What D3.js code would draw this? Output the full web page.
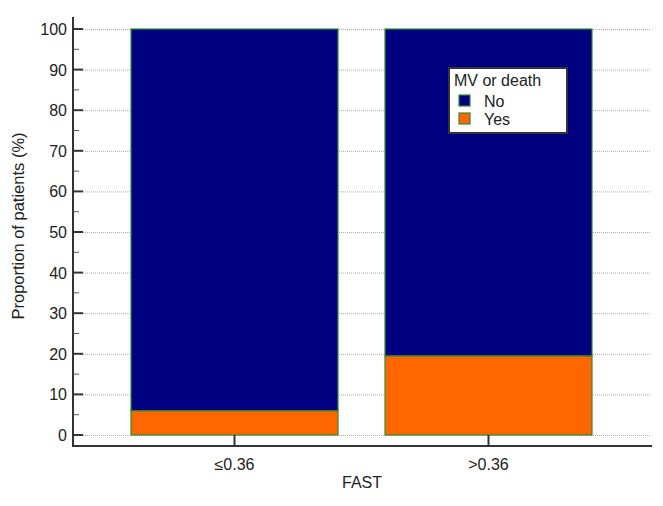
<!DOCTYPE html>
<html><head><meta charset="utf-8">
<script src="https://cdn.jsdelivr.net/npm/d3@7"></script>
<style>body{margin:0;background:#fff}text{font-family:"Liberation Sans",Arial,sans-serif}</style>
</head><body><svg id="c" width="663" height="506"></svg>
<script>
const categories = ["≤0.36", ">0.36"];
const yesValues = [6.0, 19.5];
const noValues = [94.0, 80.5];
const seriesNames = ["No", "Yes"];
const yTicks = [0,10,20,30,40,50,60,70,80,90,100];
const colors = {No:"#000080", Yes:"#ff6600"};

(function(){
const svg = d3.select("#c");
const axL = 73, axR = 652, axT = 17, axB = 446;
const fs = 16;
const y = d3.scaleLinear().domain([0,100]).range([435, 29]);
const x = d3.scaleBand().domain(categories).range([80.2, 642.8]).paddingInner(0.185).paddingOuter(0.2);

// gridlines
svg.append("g").selectAll("line").data(yTicks).join("line")
  .attr("x1", axL+10).attr("x2", 650)
  .attr("y1", d=>y(d)+0.5).attr("y2", d=>y(d)+0.5)
  .attr("stroke","#aaa").attr("stroke-width",1).attr("stroke-dasharray","1,1");

// bars
const rows = categories.map((c,i)=>({cat:c, Yes:yesValues[i], No:noValues[i]}));
const stacked = d3.stack().keys(["Yes","No"])(rows);
svg.append("g").selectAll("g").data(stacked).join("g")
  .attr("fill", d=>colors[d.key])
  .selectAll("rect").data(d=>d).join("rect")
  .attr("x", d=>x(d.data.cat)).attr("width", x.bandwidth())
  .attr("y", d=>y(d[1])).attr("height", d=>y(d[0])-y(d[1]))
  .attr("stroke","#2e8b2e").attr("stroke-width",1.2);

// axes lines
svg.append("line").attr("x1",axL).attr("x2",axL).attr("y1",axT).attr("y2",axB+1)
  .attr("stroke","#333").attr("stroke-width",2);
svg.append("line").attr("x1",axL-1).attr("x2",axR).attr("y1",axB).attr("y2",axB)
  .attr("stroke","#333").attr("stroke-width",2);

// y ticks
const minor = d3.range(5,100,10);
svg.append("g").selectAll("line").data(yTicks).join("line")
  .attr("x1",axL).attr("x2",axL+10).attr("y1",d=>y(d)).attr("y2",d=>y(d))
  .attr("stroke","#333").attr("stroke-width",2);
svg.append("g").selectAll("line").data(minor).join("line")
  .attr("x1",axL).attr("x2",axL+6).attr("y1",d=>y(d)).attr("y2",d=>y(d))
  .attr("stroke","#555").attr("stroke-width",1);
svg.append("g").selectAll("text").data(yTicks).join("text")
  .attr("x",axL-6).attr("y",d=>y(d)+6).attr("text-anchor","end")
  .attr("font-size",fs).attr("fill","#222").text(d=>d);

// x ticks
svg.append("g").selectAll("line").data(categories).join("line")
  .attr("x1",d=>x(d)+x.bandwidth()/2).attr("x2",d=>x(d)+x.bandwidth()/2)
  .attr("y1",axB-11).attr("y2",axB).attr("stroke","#333").attr("stroke-width",2);
svg.append("g").selectAll("text").data(categories).join("text")
  .attr("x",d=>x(d)+x.bandwidth()/2).attr("y",axB+24).attr("text-anchor","middle")
  .attr("font-size",fs).attr("fill","#222").text(d=>d);

// axis titles
svg.append("text").attr("x",362).attr("y",488).attr("text-anchor","middle")
  .attr("font-size",fs).attr("fill","#222").text("FAST");
svg.append("text").attr("transform","translate(24,226) rotate(-90)").attr("text-anchor","middle")
  .attr("font-size",fs+0.5).attr("fill","#222").text("Proportion of patients (%)");

// legend
const lg = svg.append("g").attr("transform","translate(449,68)");
lg.append("rect").attr("x",0).attr("y",0).attr("width",118).attr("height",65)
  .attr("fill","#fff").attr("stroke","#333").attr("stroke-width",2);
lg.append("text").attr("x",5).attr("y",18).attr("font-size",fs).attr("fill","#222").text("MV or death");
seriesNames.forEach((s,i)=>{
  lg.append("rect").attr("x",10).attr("y",27+i*18).attr("width",11).attr("height",11)
    .attr("fill",colors[s]).attr("stroke","#2e8b2e").attr("stroke-width",1.2);
  lg.append("text").attr("x",35).attr("y",39+i*18).attr("font-size",fs).attr("fill","#222").text(s);
});
})();
</script></body></html>
